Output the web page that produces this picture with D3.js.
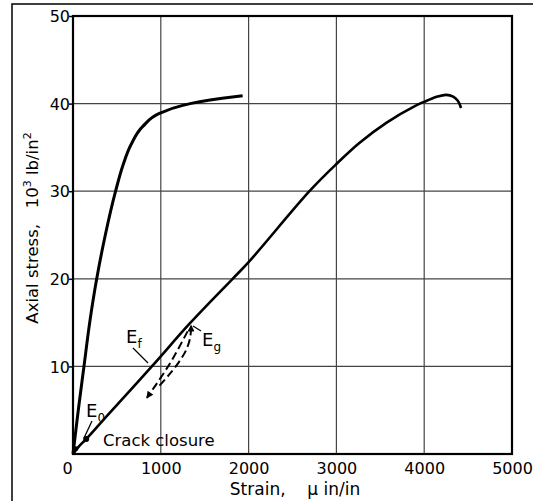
<!DOCTYPE html>
<html><head><meta charset="utf-8">
<script src="https://cdn.jsdelivr.net/npm/d3@7"></script>
<style>
html,body{margin:0;padding:0;background:#fff;}
svg{display:block;}
text{font-family:"DejaVu Sans",sans-serif;fill:#000;}
</style></head>
<body>
<script>
// ---- data (strain in micro in/in, stress in 10^3 lb/in^2) ----
const xTicks = [0, 1000, 2000, 3000, 4000, 5000];
const yTicks = [0, 10, 20, 30, 40, 50];
const steepStrain = [0, 60, 125, 190, 270, 368, 485, 570, 660, 795, 989, 1250, 1443, 1700, 1932];
const steepStress = [0, 5, 10, 15, 20, 25, 30, 33.0, 35.3, 37.4, 38.9, 39.8, 40.2, 40.6, 40.9];
const mainStrain = [0, 70, 150, 400, 898, 1330, 1818, 2000, 2693, 3000, 3261, 3568, 3909, 4023, 4150, 4250, 4330, 4385, 4420];
const mainStress = [0, 0.9, 1.7, 4.5, 10, 14.9, 20, 21.9, 30, 33.1, 35.5, 37.8, 39.8, 40.3, 40.8, 41.0, 40.8, 40.3, 39.5];
const unloadStrain = [1305, 1102, 841];
const unloadStress = [14.0, 10.3, 6.4];
const reloadStrain = [985, 1090, 1200, 1290, 1335, 1345];
const reloadStress = [7.8, 9.0, 10.4, 11.9, 13.3, 14.7];
const crackClosure = [150, 1.7];

const W = 533, H = 501;
const m = {left: 73, right: 21, top: 16, bottom: 47};
const svg = d3.select("body").append("svg").attr("width", W).attr("height", H);

const x = d3.scaleLinear().domain([0, 5000]).range([m.left, W - m.right]);
const y = d3.scaleLinear().domain([0, 50]).range([H - m.bottom, m.top]);

// outer frame (left & top)
svg.append("path").attr("d", `M12,501 V4 H533`).attr("fill", "none").attr("stroke", "#000").attr("stroke-width", 1.5);

// gridlines
svg.append("g").selectAll("line").data(xTicks.slice(1, -1)).join("line")
  .attr("x1", d => x(d)).attr("x2", d => x(d)).attr("y1", y(0)).attr("y2", y(50))
  .attr("stroke", "#444").attr("stroke-width", 1.2);
svg.append("g").selectAll("line").data(yTicks.slice(1, -1)).join("line")
  .attr("y1", d => y(d)).attr("y2", d => y(d)).attr("x1", x(0)).attr("x2", x(5000))
  .attr("stroke", "#444").attr("stroke-width", 1.2);

// axes
const fmt = d => String(d);
const yAxis = svg.append("g").attr("transform", `translate(${x(0)},0)`)
  .call(d3.axisLeft(y).tickValues(yTicks.slice(1)).tickSize(4).tickFormat(fmt));
yAxis.select(".domain").remove();
yAxis.selectAll("text").attr("font-size", 16).attr("font-family", "DejaVu Sans").attr("x", -3).attr("dy", "0.36em");
yAxis.selectAll("line").attr("stroke-width", 1.5);

const xAxis = svg.append("g").attr("transform", `translate(0,${y(0)})`)
  .call(d3.axisBottom(x).tickValues(xTicks).tickSize(0).tickFormat(fmt));
xAxis.select(".domain").remove();
xAxis.selectAll("text").attr("font-size", 16).attr("font-family", "DejaVu Sans").attr("y", 9);
xAxis.selectAll("text").filter(d => d === 0).attr("dx", -6);

// plot frame
svg.append("rect").attr("x", x(0)).attr("y", y(50)).attr("width", x(5000) - x(0)).attr("height", y(0) - y(50))
  .attr("fill", "none").attr("stroke", "#000").attr("stroke-width", 2.2);

// curves
const line = d3.line().x(d => x(d[0])).y(d => y(d[1])).curve(d3.curveCatmullRom.alpha(0.5));
const lineY = d3.line().x(d => x(d[0])).y(d => y(d[1])).curve(d3.curveMonotoneY);
const steep = steepStrain.map((s, i) => [s, steepStress[i]]);
const main = mainStrain.map((s, i) => [s, mainStress[i]]);
svg.append("path").attr("d", lineY(steep)).attr("fill", "none").attr("stroke", "#000").attr("stroke-width", 3);
svg.append("path").attr("d", line(main)).attr("fill", "none").attr("stroke", "#000").attr("stroke-width", 2.6);

// arrow marker
const defs = svg.append("defs");
defs.append("marker").attr("id", "arr").attr("viewBox", "0 0 10 10").attr("refX", 9).attr("refY", 5)
  .attr("markerWidth", 8).attr("markerHeight", 7).attr("markerUnits", "userSpaceOnUse").attr("orient", "auto")
  .append("path").attr("d", "M0,0 L10,5 L0,10 z").attr("fill", "#000");

const unload = unloadStrain.map((s, i) => [s, unloadStress[i]]);
const reload = reloadStrain.map((s, i) => [s, reloadStress[i]]);
svg.append("path").attr("d", line(unload)).attr("fill", "none").attr("stroke", "#000").attr("stroke-width", 2)
  .attr("stroke-dasharray", "8,4").attr("marker-end", "url(#arr)");
svg.append("path").attr("d", line(reload)).attr("fill", "none").attr("stroke", "#000").attr("stroke-width", 2)
  .attr("stroke-dasharray", "8,4").attr("marker-end", "url(#arr)");

// crack closure dot
svg.append("circle").attr("cx", x(crackClosure[0])).attr("cy", y(crackClosure[1])).attr("r", 3).attr("fill", "#000");
svg.append("circle").attr("cx", x(30)).attr("cy", y(0.6)).attr("r", 2.5).attr("fill", "#000");

// annotations
function sub(main, s, px, py) {
  const tx = svg.append("text").attr("x", px).attr("y", py).attr("font-size", 18);
  tx.append("tspan").text(main);
  tx.append("tspan").attr("font-size", 12).attr("dy", 5).text(s);
}
sub("E", "f", 126, 343);
sub("E", "g", 202, 346);
sub("E", "0", 86, 417);
const lead = (x1, y1, x2, y2) => svg.append("line").attr("x1", x1).attr("y1", y1).attr("x2", x2).attr("y2", y2)
  .attr("stroke", "#000").attr("stroke-width", 1.3);
lead(133, 348, 148, 363);
lead(201, 331, 193, 326);
lead(92, 421, 84, 438);
svg.append("text").attr("x", 103).attr("y", 446).attr("font-size", 16.5).text("Crack closure");

// axis titles
svg.append("text").attr("x", 295).attr("y", 495).attr("text-anchor", "middle").attr("font-size", 17)
  .attr("xml:space", "preserve").text("Strain,    \u03bc in/in");
const yt = svg.append("text").attr("transform", `translate(38,228) rotate(-90)`).attr("text-anchor", "middle")
  .attr("font-size", 16.5).attr("xml:space", "preserve");
yt.append("tspan").text("Axial stress,   10");
yt.append("tspan").attr("font-size", 11).attr("dy", -7).text("3");
yt.append("tspan").attr("dy", 7).text(" lb/in");
yt.append("tspan").attr("font-size", 11).attr("dy", -7).text("2");
</script>
</body></html>
